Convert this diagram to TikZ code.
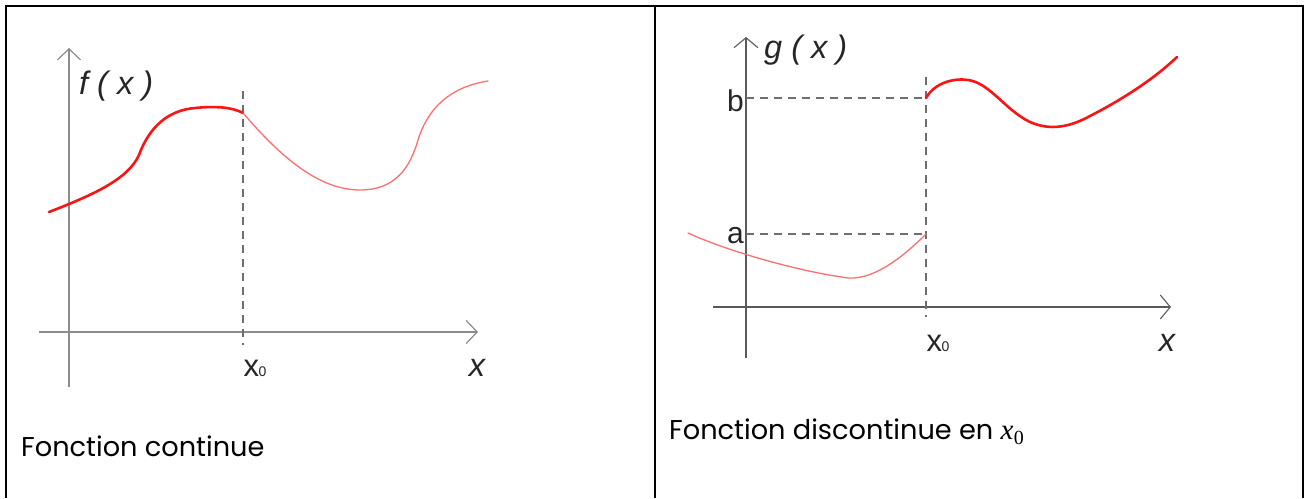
\documentclass[tikz,border=0pt]{standalone}
\usepackage{fontspec}
\setmainfont{Poppins}
\newfontfamily\arialf{Liberation Sans}
\newfontfamily\serifm{Liberation Serif}
\usetikzlibrary{arrows.meta}
\definecolor{axgray}{RGB}{140,140,140}
\definecolor{axdark}{RGB}{90,90,90}
\definecolor{dashgray}{RGB}{110,110,110}
\definecolor{redthick}{RGB}{250,20,20}
\definecolor{redthin}{RGB}{255,110,110}
\tikzset{
  frame/.style={line width=2pt, black},
  axis/.style={line width=1.6pt, axgray, -{Straight Barb[length=11pt,width=23pt,line width=1.2pt]}},
  axisdark/.style={line width=1.3pt, axdark, -{Straight Barb[length=10pt,width=24pt,line width=1.1pt]}},
  guide/.style={line width=1.2pt, dashgray, dash pattern=on 8pt off 6pt},
  thickc/.style={line width=2.6pt, redthick, line cap=round},
  thinc/.style={line width=1.3pt, redthin, line cap=round},
  lab/.style={font=\arialf\fontsize{32.5}{36}\selectfont\itshape, inner sep=0pt, text=black!85},
  labup/.style={font=\arialf\fontsize{30}{34}\selectfont, inner sep=0pt, text=black!85},
  caption/.style={font=\fontsize{27.2}{30}\selectfont, inner sep=0pt, anchor=base west},
}
\newcommand{\xzero}{\arialf\fontsize{31}{34}\selectfont x\kern-0.5pt\fontsize{14}{16}\selectfont 0}
\newcommand{\capx}{{\serifm\itshape\fontsize{29}{30}\selectfont x}\kern0.5pt\raisebox{-5pt}{\serifm\fontsize{20}{22}\selectfont 0}}
\begin{document}
\begin{tikzpicture}[x=1pt,y=-1pt]
\useasboundingbox (0,0) rectangle (1306,498);
% frame
\coordinate (tl) at (6,6);
\coordinate (tm) at (655,6);
\coordinate (tr) at (1303,6);
\coordinate (bl) at (6,498);
\coordinate (bm) at (655,498);
\coordinate (br) at (1303,498);
\draw[frame] (bl) -- (tl) -- (tr) -- (br);
\draw[frame] (tm) -- (bm);

% ---------- left panel ----------
\coordinate (ly0) at (69,387);
\coordinate (ly1) at (69,48);
\coordinate (lx0) at (39,332);
\coordinate (lx1) at (478,332);
\draw[axis] (ly0) -- (ly1);
\draw[axis] (lx0) -- (lx1);
\coordinate (ld0) at (243,91);
\coordinate (ld1) at (243,345);
\draw[guide] (ld0) -- (ld1);
\node[lab, anchor=west] (fx) at (79,86) {f ( x )};
\node[inner sep=0pt, text=black!85] (lx0lab) at (255,368) {\xzero};
\node[lab] (lxlab) at (477,368) {x};
% curve
\coordinate (p0) at (49,212);
\coordinate (p1) at (243,113);
\draw[thickc] (p0) .. controls (90,196) and (128,180) .. (139,155)
   .. controls (150,125) and (170,110) .. (195,108)
   .. controls (215,106) and (232,107) .. (p1);
\draw[thinc] (p1) .. controls (275,150) and (315,190) .. (360,190)
   .. controls (395,190) and (410,168) .. (418,140)
   .. controls (428,108) and (450,87) .. (488,81);
\node[caption] (cap1) at (21,456) {Fonction continue};

% ---------- right panel ----------
\coordinate (ry0) at (746,358);
\coordinate (ry1) at (746,37);
\coordinate (rx0) at (713,307);
\coordinate (rx1) at (1171,307);
\draw[axisdark] (ry0) -- (ry1);
\draw[axisdark] (rx0) -- (rx1);
\coordinate (rd0) at (926,77);
\coordinate (rd1) at (926,317);
\draw[guide] (rd0) -- (rd1);
\coordinate (rb0) at (746,98);
\coordinate (rb1) at (926,98);
\coordinate (ra0) at (746,234);
\coordinate (ra1) at (926,234);
\draw[guide] (rb0) -- (rb1);
\draw[guide] (ra0) -- (ra1);
\node[lab, anchor=west] (gx) at (764,50) {g ( x )};
\node[labup, anchor=east] (blab) at (744,101) {b};
\node[labup, anchor=east] (alab) at (744,236) {a};
\node[inner sep=0pt, text=black!85] (rx0lab) at (938,343) {\xzero};
\node[lab] (rxlab) at (1167,343) {x};
% lower curve
\coordinate (q0) at (688,233);
\draw[thinc] (q0) .. controls (720,248) and (790,270) .. (848,278)
   .. controls (875,280) and (905,255) .. (ra1);
% upper curve
\draw[thickc] (rb1) .. controls (935,82) and (955,78) .. (968,80)
   .. controls (990,83) and (1005,110) .. (1030,122)
   .. controls (1050,131) and (1070,127) .. (1090,116)
   .. controls (1125,98) and (1155,78) .. (1177,57);
\node[caption] (cap2) at (669,439) {Fonction discontinue en \capx};
\end{tikzpicture}
\end{document}
